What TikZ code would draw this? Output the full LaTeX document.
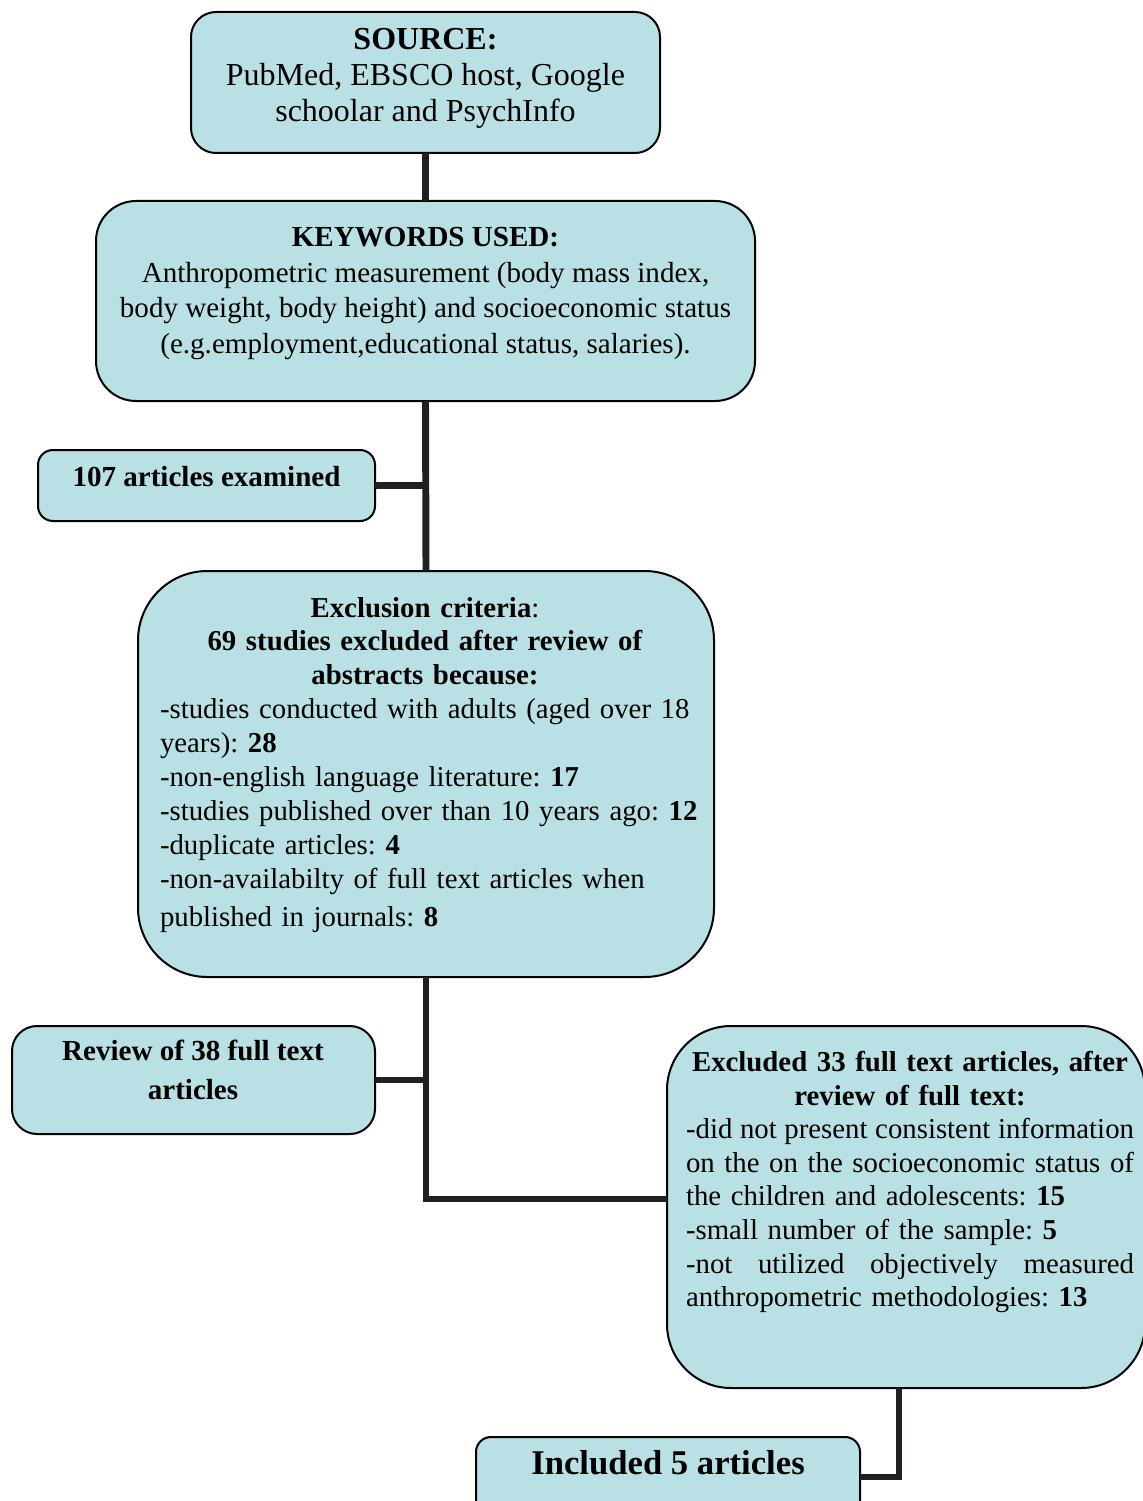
\documentclass[tikz,border=0pt]{standalone}
\usepackage{fontspec}
\setmainfont{Liberation Serif}
\usetikzlibrary{calc}
\definecolor{boxfill}{RGB}{185,224,228}
\definecolor{linec}{RGB}{35,31,32}
\def\exW{198.75pt}
\def\rtW{168pt}
\begin{document}
\frenchspacing
\begin{tikzpicture}[x=0.375pt,y=-0.375pt,
  box/.style={draw=black, line width=0.75pt, fill=boxfill, inner sep=0pt, outer sep=0pt},
  conn/.style={draw=linec, line width=2.6pt},
  txt/.style={inner sep=0pt, text=black},
  body/.style={font=\fontsize{10.8}{12.7}\selectfont\frenchspacing}]
\useasboundingbox (0,0) rectangle (1143,1501);
\clip (0,0) rectangle (1143,1501);

% boxes
\node[box, rounded corners=9.4pt, minimum width=175.875pt, minimum height=52.875pt] (src) at (425.5,82.5) {};
\node[box, rounded corners=15pt, minimum width=247.125pt, minimum height=75pt] (kw) at (425.5,301) {};
\node[box, rounded corners=5.6pt, minimum width=126.375pt, minimum height=26.625pt] (a107) at (206.5,485.5) {};
\node[box, rounded corners=26pt, minimum width=216pt, minimum height=152.25pt] (excl) at (426,774) {};
\node[box, rounded corners=9.4pt, minimum width=136.125pt, minimum height=40.5pt] (rev) at (193.5,1080) {};
\node[box, rounded corners=24pt, minimum width=179.25pt, minimum height=135.75pt] (ex33) at (906,1207) {};
\node[box, rounded corners=5.6pt, minimum width=144pt, minimum height=30pt] (inc) at (668,1477) {};

% connectors
\draw[conn] (src.south) -- (kw.north);
\draw[conn] (kw.south) -- (excl.north);
\draw[conn] (a107.east) -- (a107.east -| kw.south);
\draw[conn] (excl.south) |- ($(ex33.west)+(0,-8)$);
\draw[conn] (rev.east) -- (rev.east -| excl.south);
\draw[conn] ($(ex33.south)+(-7,0)$) |- (inc.east);

% texts
\node[txt, align=center, font=\fontsize{12}{13.5}\selectfont] (srcT) at (425.5,78)
  {\textbf{SOURCE:}\\PubMed, EBSCO host, Google\\schoolar and PsychInfo};
\node[txt, align=center, font=\fontsize{10.9}{13.4}\selectfont] (kwT) at (425.5,293.5)
  {\textbf{KEYWORDS USED:}\\Anthropometric measurement (body mass index,\\body weight, body height) and socioeconomic status\\(e.g.employment,educational status, salaries).};
\node[txt, font=\fontsize{10.9}{12.8}\selectfont\bfseries] (a107T) at (206.5,477) {107 articles examined};
\node[txt, body, text width=\exW, align=left] (exT) at (425,765) {%
\makebox[\exW][c]{\textbf{Exclusion criteria}:}\\
\makebox[\exW][c]{\textbf{69 studies excluded after review of}}\\
\makebox[\exW][c]{\textbf{abstracts because:}}\\
\makebox[\exW][l]{-studies conducted with adults (aged over 18}\\
\makebox[\exW][l]{years): \textbf{28}}\\
\makebox[\exW][l]{-non-english language literature: \textbf{17}}\\
\makebox[\exW][l]{-studies published over than 10 years ago: \textbf{12}}\\
\makebox[\exW][l]{-duplicate articles: \textbf{4}}\\
\makebox[\exW][l]{-non-availabilty of full text articles when}\\[1.8pt]
\makebox[\exW][l]{published in journals: \textbf{8}}};
\node[txt, align=center, font=\fontsize{10.9}{14.6}\selectfont\bfseries] (revT) at (193,1069.5)
  {Review of 38 full text\\articles};
\node[txt, body, font=\fontsize{10.8}{12.6}\selectfont\frenchspacing, text width=\rtW, align=left] (ex33T) at (910,1182) {%
\makebox[\rtW][c]{\textbf{Excluded 33 full text articles, after}}\\
\makebox[\rtW][c]{\textbf{review of full text:}}\\
\makebox[\rtW][s]{\spaceskip=0.2em plus 1em minus 0.1em -did not present consistent information}\\
\makebox[\rtW][l]{on\hfill the\hfill on\hfill the\hfill socioeconomic\hfill status\hfill of}\\
\makebox[\rtW][l]{the children and adolescents: \textbf{15}}\\
\makebox[\rtW][l]{-small number of the sample: \textbf{5}}\\
\makebox[\rtW][l]{-not\hfill utilized\hfill objectively\hfill measured}\\
\makebox[\rtW][l]{anthropometric methodologies: \textbf{13}}};
\node[txt, font=\fontsize{13}{15}\selectfont\bfseries] (incT) at (668,1463) {Included 5 articles};
\end{tikzpicture}
\end{document}
